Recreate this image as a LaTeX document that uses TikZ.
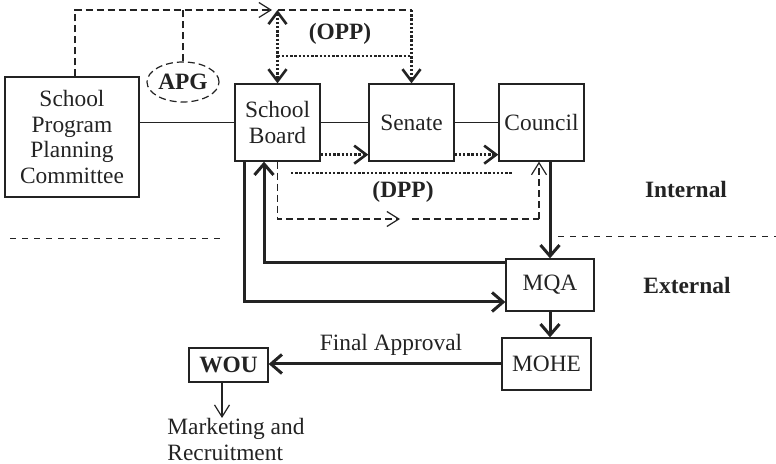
\documentclass[tikz,border=0pt]{standalone}
\usepackage{fontspec}
\setmainfont{Liberation Serif}
\usetikzlibrary{arrows.meta,shapes.geometric}
\definecolor{ink}{RGB}{35,35,35}
\begin{document}
\begin{tikzpicture}[x=0.5pt,y=-0.5pt,
  every node/.style={text=ink,font=\fontsize{11.7}{12.75}\selectfont},
  box/.style={draw=ink,line width=0.65pt,inner sep=0pt,align=center},
  thinln/.style={draw=ink,line width=0.65pt},
  thk/.style={draw=ink,line width=1.5pt},
  dsh/.style={draw=ink,line width=0.6pt,dash pattern=on 3.5pt off 2pt},
  sep/.style={draw=ink,line width=0.5pt,dash pattern=on 3pt off 3pt},
  dts/.style={draw=ink,line width=1.4pt,dash pattern=on 1.2pt off 0.9pt},
  bighead/.style={-{Straight Barb[length=6pt,width=9pt,line width=1.3pt]}},
  bigtail/.style={{Straight Barb[length=6pt,width=9pt,line width=1.3pt]}-{Straight Barb[length=6pt,width=9pt,line width=1.3pt]}},
  thkhead/.style={-{Straight Barb[length=5.5pt,width=9.5pt,line width=1.5pt]}},
  thinhead/.style={-{Straight Barb[length=6pt,width=7.5pt,line width=0.6pt]}},
  lbl/.style={font=\fontsize{11.7}{12.75}\selectfont\bfseries}]
\useasboundingbox (0,0) rectangle (776,464);

% boxes
\node[box,minimum width=67pt,minimum height=60pt] (sppc) at (72,137) {School\\Program\\Planning\\Committee};
\node[box,minimum width=42.5pt,minimum height=38.5pt] (sb) at (277.5,122.5) {School\\Board};
\node[box,minimum width=42.5pt,minimum height=38.5pt] (sen) at (411.5,122.5) {Senate};
\node[box,minimum width=42.5pt,minimum height=38.5pt] (cou) at (541.5,122.5) {Council};
\node[box,minimum width=44pt,minimum height=26pt] (mqa) at (550,285) {MQA};
\node[box,minimum width=44.5pt,minimum height=26pt] (mohe) at (546.5,364) {MOHE};
\node[box,minimum width=39.5pt,minimum height=17pt,font=\fontsize{11.7}{12.75}\selectfont\bfseries] (wou) at (228.5,365) {WOU};
\node[ellipse,dsh,inner sep=0pt,minimum width=36pt,minimum height=20pt,lbl] (apg) at (183,82) {APG};
\node[align=left,anchor=north west,inner sep=0pt] (mkt) at (167,418) {Marketing and\\Recruitment};

% labels
\node[lbl] (opp) at (340,34) {(OPP)};
\node[lbl] (dpp) at (403,192) {(DPP)};
\node[lbl] (int) at (686,189) {Internal};
\node[lbl] (ext) at (687,285) {External};
\node (fa) at (391,345) {Final Approval};

% coordinates
\coordinate (oppL) at (sb.north |- 0,10);
\coordinate (oppR) at (sen.north |- 0,10);
\coordinate (topA) at (272,10);
\coordinate (dppL) at (291,173);
\coordinate (dppR) at (512,173);
\coordinate (dshM) at (400,219);
\coordinate (dshR) at (539,219);
\coordinate (sepA) at (10,239);
\coordinate (sepB) at (225,239);
\coordinate (sepC) at (558,237);
\coordinate (sepD) at (776,237);

% solid thin links
\draw[thinln] (sppc.east |- sb.west) -- (sb.west);
\draw[thinln] (sb.east) -- (sen.west);
\draw[thinln] (sen.east) -- (cou.west);

% top dashed path
\draw[dsh,thinhead] ([xshift=1.5pt]sppc.north) |- (topA);
\draw[dsh] (apg.north) -- (apg.north |- 0,10);
\draw[dsh] (oppL) -- (oppR);
\draw[dts,bighead] (oppR) -- (sen.north);
\draw[dts,bigtail] (oppL) -- (sb.north);
\draw[dts] (sb.north |- 0,56) -- (sen.north |- 0,56);

% dotted arrows between boxes
\draw[dts,bighead] ([yshift=3.5pt]sb.south east) -- ([yshift=3.5pt]sen.south west);
\draw[dts,bighead] ([yshift=3.5pt]sen.south east) -- ([yshift=3.5pt]cou.south west);
\draw[dts] (dppL) -- (dppR);

% DPP dashed loop
\draw[dsh,thinhead] (sb.south) |- (dshM);
\draw[dsh] ([xshift=6pt]dshM) -- (dshR);
\draw[dsh,thinhead] (dshR) -- (dshR |- cou.south);

% thick connectors
\draw[thk,thkhead] (mqa.north |- cou.south) -- (mqa.north);
\draw[thk,thkhead] ([yshift=-2pt]mqa.north west) -| ([xshift=-6.75pt]sb.south);
\draw[thk,thkhead] ([xshift=-16.75pt]sb.south) |- (mqa.west |- 0,302);
\draw[thk,thkhead] (mqa.south) -- (mqa.south |- mohe.north);
\draw[thk,thkhead] (mohe.west) -- (mohe.west -| wou.east);
\draw[thinln,thinhead] ([xshift=-3.25pt]wou.south) -- ([xshift=-3.25pt]wou.south |- mkt.north);

% separators
\draw[sep] (sepA) -- (sepB);
\draw[sep] (sepC) -- (sepD);
\end{tikzpicture}
\end{document}
